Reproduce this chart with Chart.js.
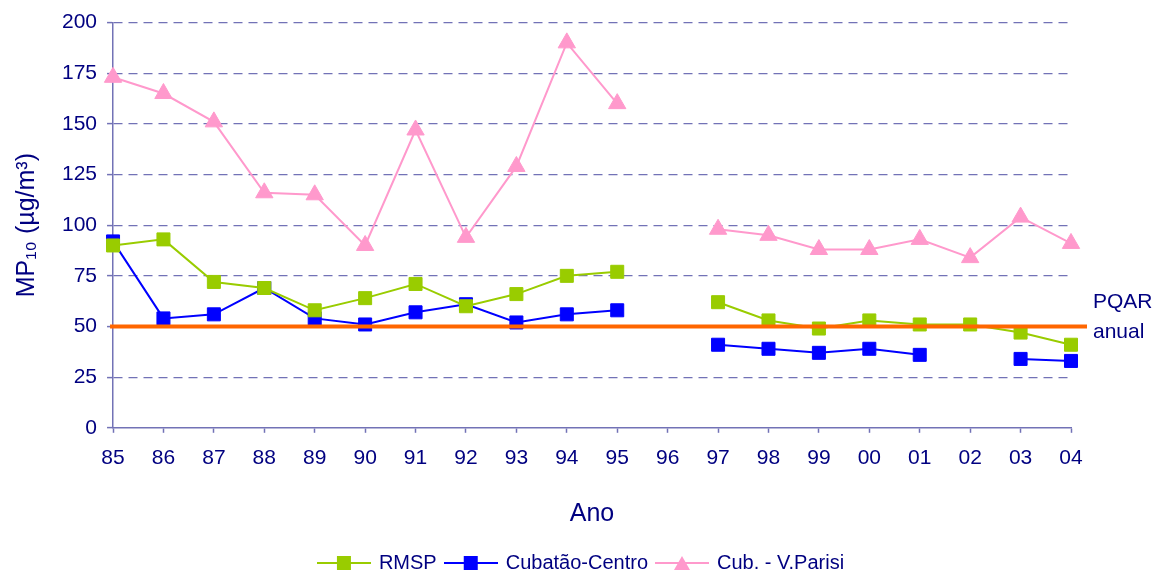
<!DOCTYPE html>
<html>
<head>
<meta charset="utf-8">
<script src="https://cdn.jsdelivr.net/npm/chart.js@4.4.1/dist/chart.umd.min.js"></script>
<style>
  html, body { margin: 0; padding: 0; background: #fff; }
  #wrap { width: 1163px; height: 577px; }
</style>
</head>
<body>
<div id="wrap"><canvas id="mpChart" width="1163" height="577"></canvas></div>
<script>
  // Years (category axis)
  const YEARS = ['85', '86', '87', '88', '89', '90', '91', '92', '93', '94',
                 '95', '96', '97', '98', '99', '00', '01', '02', '03', '04'];

  // MP10 annual means (µg/m³); null = no data
  const RMSP       = [90, 93, 72, 69, 58, 64, 71, 60, 66, 75, 77, null, 62, 53, 49, 53, 51, 51, 47, 41];
  const CUB_CENTRO = [92, 54, 56, 69, 54, 51, 57, 61, 52, 56, 58, null, 41, 39, 37, 39, 36, null, 34, 33];
  const CUB_PARISI = [173, 165, 151, 116, 115, 90, 147, 94, 129, 190, 160, null, 98, 95, 88, 88, 93, 84, 104, 91];

  const Y_TICKS = [0, 25, 50, 75, 100, 125, 150, 175, 200];
  const PQAR = 50;

  const NAVY = '#000080';
  const GRID = '#7272B6';
  const FONT = "'Liberation Sans', Arial, sans-serif";

  const SERIES = [
    { label: 'RMSP',            data: RMSP,       color: '#99CC00', style: 'rect' },
    { label: 'Cubatão-Centro',  data: CUB_CENTRO, color: '#0000FF', style: 'rect' },
    { label: 'Cub. - V.Parisi', data: CUB_PARISI, color: '#FF99CC', style: 'triangle' }
  ];

  // little "line + marker" images for the legend, Excel style
  function legendIcon(color, style) {
    const c = document.createElement('canvas');
    c.width = 54; c.height = 16;
    const g = c.getContext('2d');
    g.strokeStyle = color;
    g.lineWidth = 2;
    g.beginPath(); g.moveTo(0, 8); g.lineTo(54, 8); g.stroke();
    g.fillStyle = color;
    if (style === 'rect') {
      g.fillRect(20, 1, 14, 14);
    } else {
      g.beginPath(); g.moveTo(27, 1); g.lineTo(35, 15); g.lineTo(19, 15); g.closePath(); g.fill();
    }
    return c;
  }

  // orange PQAR line + its label, drawn over the series
  const pqarPlugin = {
    id: 'pqar',
    afterDatasetsDraw(chart) {
      const { ctx, chartArea } = chart;
      const y = chart.scales.y.getPixelForValue(PQAR);
      ctx.save();
      ctx.strokeStyle = '#FF6600';
      ctx.lineWidth = 4;
      ctx.beginPath();
      ctx.moveTo(chartArea.left - 3, y);
      ctx.lineTo(chartArea.right + 16, y);
      ctx.stroke();
      ctx.fillStyle = NAVY;
      ctx.font = '21px ' + FONT;
      ctx.textAlign = 'left';
      ctx.textBaseline = 'middle';
      ctx.fillText('PQAR', chartArea.right + 22, y - 24);
      ctx.fillText('anual', chartArea.right + 22, y + 6);
      ctx.restore();
    }
  };

  const ctx = document.getElementById('mpChart').getContext('2d');
  new Chart(ctx, {
    type: 'line',
    data: {
      labels: YEARS,
      datasets: SERIES.map(s => ({
        label: s.label,
        data: s.data,
        borderColor: s.color,
        backgroundColor: s.color,
        borderWidth: 2,
        pointStyle: s.style,
        pointRadius: s.style === 'rect' ? 9.2 : 10,
        pointBorderWidth: 1,
        pointBorderColor: s.color,
        pointBackgroundColor: s.color,
        spanGaps: false,
        tension: 0,
        fill: false
      }))
    },
    options: {
      responsive: false,
      animation: false,
      layout: { padding: { top: 17, right: 0, bottom: -6, left: 0 } },
      plugins: {
        tooltip: { enabled: false },
        legend: {
          position: 'bottom',
          labels: {
            color: NAVY,
            font: { family: FONT, size: 20 },
            usePointStyle: true,
            pointStyleWidth: 50,
            padding: 9,
            generateLabels(chart) {
              const items = Chart.defaults.plugins.legend.labels.generateLabels(chart);
              items.forEach((it, i) => {
                it.pointStyle = legendIcon(SERIES[i].color, SERIES[i].style);
              });
              return items;
            }
          }
        }
      },
      scales: {
        x: {
          offset: false,
          grid: {
            drawOnChartArea: false,
            drawTicks: true,
            tickLength: 5,
            tickColor: GRID,
            tickWidth: 1.5
          },
          border: { color: GRID, width: 1.5 },
          ticks: {
            color: NAVY,
            font: { family: FONT, size: 21 },
            padding: 13,
            maxRotation: 0,
            autoSkip: false
          },
          title: {
            display: true,
            text: 'Ano',
            color: NAVY,
            font: { family: FONT, size: 25 },
            padding: { top: 15, bottom: 15 }
          }
        },
        y: {
          min: 0,
          max: 200,
          afterBuildTicks: axis => { axis.ticks = Y_TICKS.map(v => ({ value: v })); },
          grid: {
            color: ctx => ctx.tick && ctx.tick.value === 0 ? 'rgba(0,0,0,0)' : GRID,
            lineWidth: 1.2,
            drawTicks: true,
            tickLength: 6,
            tickColor: GRID,
            tickWidth: 1.5
          },
          border: {
            color: GRID,
            width: 1.5,
            dash: ctx => ctx.tick && ctx.tick.value === 0 ? [] : [9, 6]
          },
          ticks: {
            color: NAVY,
            font: { family: FONT, size: 21 },
            padding: 10
          },
          title: {
            display: true,
            text: 'MP₁₀ (µg/m³)',
            color: NAVY,
            font: { family: FONT, size: 25 },
            padding: { top: 12, bottom: 10 }
          }
        },
        // empty right-hand axis: reserves room for the "PQAR anual" label
        pad: {
          type: 'linear',
          position: 'right',
          min: 0,
          max: 200,
          grid: { display: false },
          border: { display: false },
          ticks: { display: false },
          afterFit: axis => { axis.width = 92; }
        }
      }
    },
    plugins: [pqarPlugin]
  });
</script>
</body>
</html>
